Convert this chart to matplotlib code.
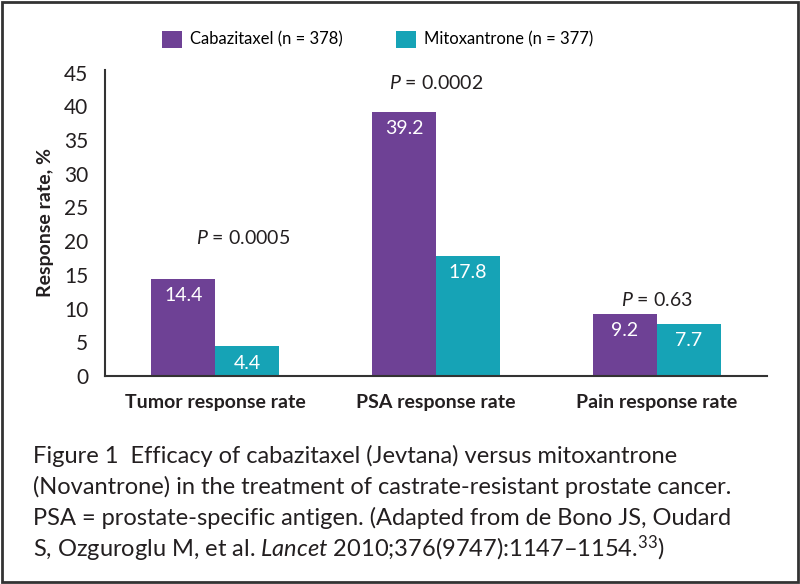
import numpy as np
import matplotlib.pyplot as plt
from matplotlib.patches import Rectangle

# datos
categorias = ['Tumor response rate', 'PSA response rate', 'Pain response rate']
cabazitaxel = [14.4, 39.2, 9.2]
mitoxantrona = [4.4, 17.8, 7.7]
p_textos = ['0.0005', '0.0002', '0.63']
p_pos = [(0.128, 20.4), (0.0, 43.5), (0.0, 11.3)]  # offset x, altura y
series = ['Cabazitaxel (n = 378)', 'Mitoxantrone (n = 377)']
y_ticks = [0, 5, 10, 15, 20, 25, 30, 35, 40, 45]

COL_CAB = '#6E4195'
COL_MIT = '#16A3B6'
TXT = '#231F20'

plt.rcParams['font.family'] = ['Lato', 'DejaVu Sans']
plt.rcParams['mathtext.fontset'] = 'custom'
plt.rcParams['mathtext.rm'] = 'Lato'
plt.rcParams['mathtext.it'] = 'Lato:italic:normal'

fig = plt.figure(figsize=(8, 5.84), dpi=100)
ax = fig.add_axes([0.131, 0.3562, 0.828, 0.524])

x = np.arange(len(categorias))
w = 0.29
b1 = ax.bar(x - w / 2, cabazitaxel, w, color=COL_CAB, label=series[0])
b2 = ax.bar(x + w / 2, mitoxantrona, w, color=COL_MIT, label=series[1])

# valores dentro de las barras
for barras in (b1, b2):
    for r in barras:
        h = r.get_height()
        ax.text(r.get_x() + r.get_width() / 2, h - 2.5, f'{h:.1f}',
                ha='center', va='center', color='white', fontsize=14)

for i, (dx, yy) in enumerate(p_pos):
    ax.text(i + dx, yy, r'$\mathit{P}$ = ' + p_textos[i], ha='center', va='center',
            fontsize=14, color=TXT)

ax.set_xlim(-0.5, 2.5)
ax.set_ylim(0, 45.4)
ax.set_yticks(y_ticks)
ax.set_xticks(x)
ax.set_xticklabels(categorias, fontsize=14, fontweight='bold', color=TXT)
ax.tick_params(axis='both', length=0)
ax.tick_params(axis='x', pad=13)
ax.tick_params(axis='y', pad=12, labelsize=15, labelcolor=TXT)
for s in ('top', 'right'):
    ax.spines[s].set_visible(False)
for s in ('left', 'bottom'):
    ax.spines[s].set_color('#333333')
    ax.spines[s].set_linewidth(1.5)
ax.set_ylabel('Response rate, %', fontsize=14, fontweight='bold', color=TXT, labelpad=7)

fig.legend(loc='center', bbox_to_anchor=(0.472, 0.933), ncol=2, frameon=False,
           fontsize=12, handlelength=1.2, handleheight=1.2, columnspacing=3.2,
           handletextpad=0.5)

caption = [
    'Figure 1  Efficacy of cabazitaxel (Jevtana) versus mitoxantrone',
    '(Novantrone) in the treatment of castrate-resistant prostate cancer.',
    'PSA = prostate-specific antigen. (Adapted from de Bono JS, Oudard',
    r'S, Ozguroglu M, et al. $\mathit{Lancet}$ 2010;376(9747):1147–1154.$^{33}$)',
]
for k, linea in enumerate(caption):
    fig.text(33 / 800, 1 - (456 + 31 * k) / 584, linea, ha='left', va='center',
             fontsize=17, color=TXT)

# marco exterior
fig.patches.append(Rectangle((0.002, 0.003), 0.996, 0.994, transform=fig.transFigure,
                             fill=False, edgecolor='#333333', linewidth=2))

fig.savefig('out.png', dpi=100)
